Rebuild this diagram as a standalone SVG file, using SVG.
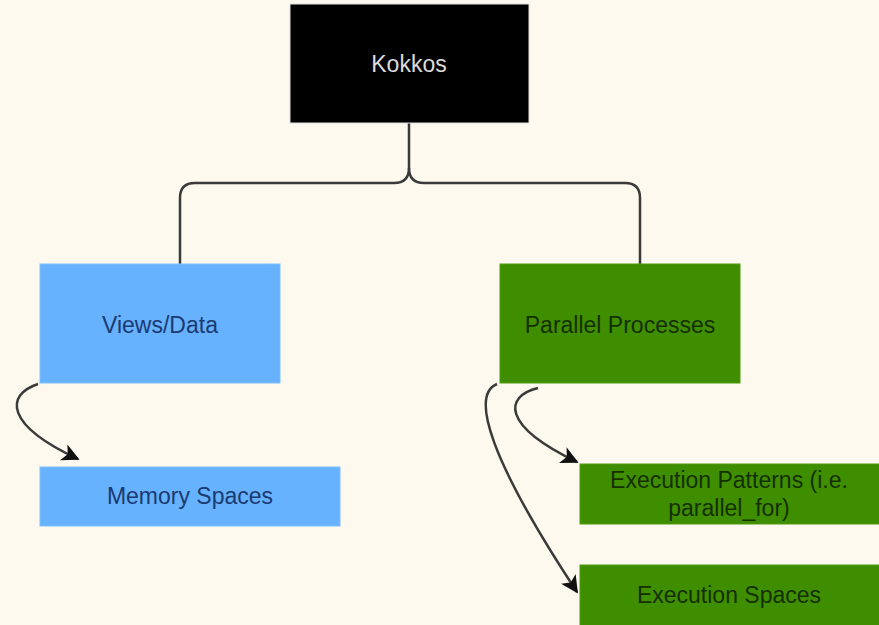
<svg xmlns="http://www.w3.org/2000/svg" width="879" height="625" viewBox="0 0 879 625">
<defs>
<style>
.lbl{font-family:"Liberation Sans",Arial,sans-serif;font-size:23px;text-anchor:middle;dominant-baseline:central}
.conn{fill:none;stroke:#3a3a3a;stroke-width:2.5}
.blue{fill:#66B2FF;stroke:#7fbfff;stroke-width:1}
.green{fill:#3F8E00;stroke:#4f9a10;stroke-width:1}
</style>
<marker id="ah" viewBox="0 0 10 10" refX="9" refY="5" markerWidth="7" markerHeight="7" orient="auto" markerUnits="strokeWidth">
<path d="M0,0 L10,5 L0,10 L2.5,5 Z" fill="#111"/>
</marker>
</defs>
<rect width="879" height="625" fill="#FDF9EE"/>
<g id="connectors">
<path class="conn" d="M409,123 V168 Q409,183 394,183 H195 Q180,183 180,198 V264"/>
<path class="conn" d="M409,168 Q409,183 424,183 H625 Q640,183 640,198 V264"/>
<path class="conn" d="M38,384 C5,395 5,425 78,459" marker-end="url(#ah)"/>
<path class="conn" d="M538,388 C505,396 500,425 577,462" marker-end="url(#ah)"/>
<path class="conn" d="M497,384 C470,395 490,460 577,592" marker-end="url(#ah)"/>
</g>
<g id="kokkos">
<rect x="290" y="4" width="239" height="119" fill="#000" stroke="#ddd" stroke-width="1"/>
<text class="lbl" x="409" y="64" fill="#dcdcdc">Kokkos</text>
</g>
<g id="views">
<rect class="blue" x="40" y="264" width="240" height="119"/>
<text class="lbl" x="160" y="325" fill="#1b3a70">Views/Data</text>
</g>
<g id="parallel">
<rect class="green" x="500" y="264" width="240" height="119"/>
<text class="lbl" x="620" y="325" fill="#153000">Parallel Processes</text>
</g>
<g id="memory">
<rect class="blue" x="40" y="467" width="300" height="59"/>
<text class="lbl" x="190" y="496" fill="#1b3a70">Memory Spaces</text>
</g>
<g id="patterns">
<rect class="green" x="580" y="464" width="305" height="60"/>
<text class="lbl" x="729" y="480" fill="#153000">Execution Patterns (i.e.</text>
<text class="lbl" x="729" y="508" fill="#153000">parallel_for)</text>
</g>
<g id="spaces">
<rect class="green" x="580" y="565" width="305" height="65"/>
<text class="lbl" x="729" y="595" fill="#153000">Execution Spaces</text>
</g>
</svg>
